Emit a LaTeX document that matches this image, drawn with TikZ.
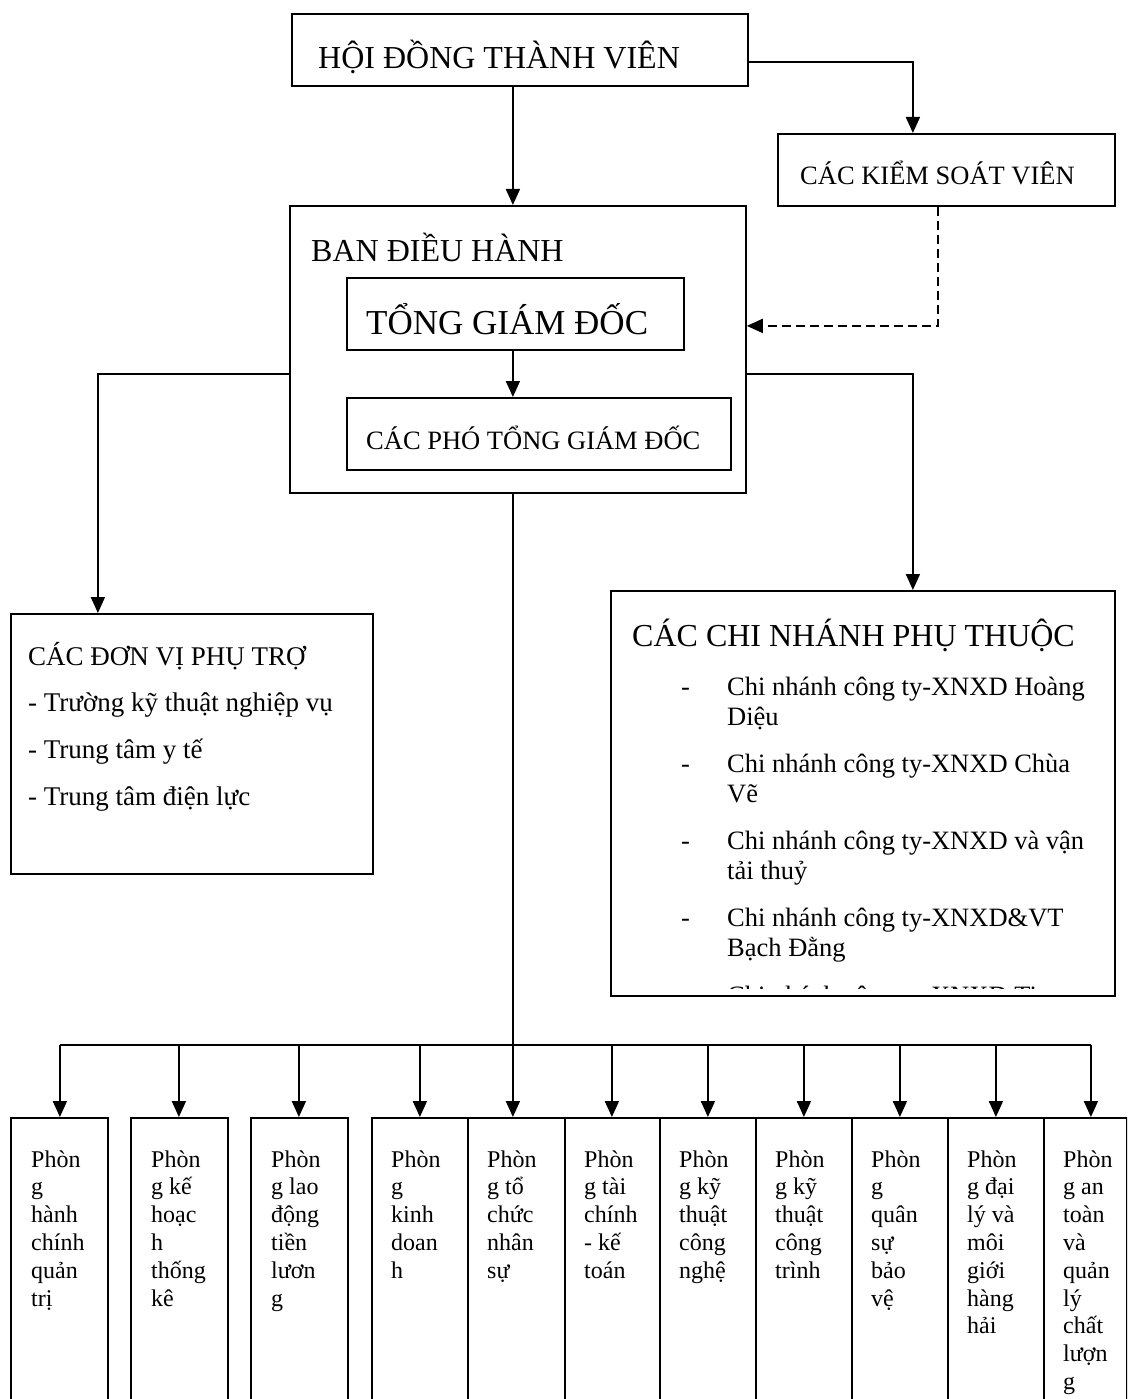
\documentclass[tikz,border=0pt]{standalone}
\usepackage{fontspec}
\setmainfont{Liberation Serif}
\usetikzlibrary{arrows.meta}
\newcommand\myfs[1]{\fontsize{#1pt}{#1pt}\selectfont}
\begin{document}
\begin{tikzpicture}[x=1pt,y=-1pt,
  box/.style={draw, line width=1.8pt, inner sep=0pt, anchor=north west},
  arr/.style={line width=1.8pt, -{Triangle[length=16pt,width=14pt]}},
  dasharr/.style={line width=1.9pt, dash pattern=on 9pt off 5pt, -{Triangle[length=16pt,width=14pt]}},
  lbl/.style={anchor=base west, inner sep=0pt},
]
\clip (0,0) rectangle (1127,1399);
\fill[white] (0,0) rectangle (1127,1399);

% top boxes
\node[box,minimum width=456pt,minimum height=72pt] (hdtv) at (291,13) {};
\node[lbl,font=\myfs{32}] (hdtvT) at (318,69) {HỘI ĐỒNG THÀNH VIÊN};
\node[box,minimum width=337pt,minimum height=72pt] (ksv) at (777,133) {};
\node[lbl,font=\myfs{26.5}] (ksvT) at (800,185) {CÁC KIỂM SOÁT VIÊN};
\node[box,minimum width=456pt,minimum height=287pt] (bdh) at (289,205) {};
\node[lbl,font=\myfs{32}] (bdhT) at (311,261) {BAN ĐIỀU HÀNH};
\node[box,minimum width=337pt,minimum height=72pt] (tgd) at (346,277) {};
\node[lbl,font=\myfs{35}] (tgdT) at (366,334) {TỔNG GIÁM ĐỐC};
\node[box,minimum width=384pt,minimum height=72pt] (cptgd) at (346,397) {};
\node[lbl,font=\myfs{26.5}] (cptgdT) at (366,449) {CÁC PHÓ TỔNG GIÁM ĐỐC};

% support units
\node[box,minimum width=362pt,minimum height=260pt] (dvpt) at (10,613) {};
\node[lbl,font=\myfs{27}] (dvptT) at (28,665) {CÁC ĐƠN VỊ PHỤ TRỢ};
\node[lbl,font=\myfs{27}] (dvpt1) at (28,711) {- Trường kỹ thuật nghiệp vụ};
\node[lbl,font=\myfs{27}] (dvpt2) at (28,758) {- Trung tâm y tế};
\node[lbl,font=\myfs{27}] (dvpt3) at (28,805) {- Trung tâm điện lực};

% branches
\node[box,minimum width=504pt,minimum height=405pt] (cn) at (610,590) {};
\node[lbl,font=\myfs{32}] (cnT) at (632,646) {CÁC CHI NHÁNH PHỤ THUỘC};
\begin{scope}
\clip (cn.north west) rectangle ([yshift=8pt]cn.south east);
\foreach \y/\a/\b [count=\k] in {695/Chi nhánh công ty-XNXD Hoàng/Diệu,
    772/Chi nhánh công ty-XNXD Chùa/Vẽ,
    849/Chi nhánh công ty-XNXD và vận/tải thuỷ,
    926/Chi nhánh công ty-XNXD\&VT/Bạch Đằng,
    1004.5/Chi nhánh công ty-XNXD Ti/ } {
  \node[lbl,font=\myfs{26.5}] (cnd\k) at (681,\y) {-};
  \node[lbl,font=\myfs{26.5}] (cna\k) at (727,\y) {\a};
  \node[lbl,font=\myfs{26.5}] (cnb\k) at (727,\y+30) {\b};
}
\end{scope}

% bottom departments
\foreach \i/\x/\w in {1/10/97,2/130/97,3/250/97,4/371/96,5/467/97,6/564/95,
                      7/659/96,8/755/96,9/851/96,10/947/96,11/1043/83} {
  \node[box,minimum width=\w pt,minimum height=320pt] (b\i) at (\x,1117) {};
}
\foreach \i/\x/\lst in {
   1/31/{Phòn,g,hành,chính,quản,trị},
   2/151/{Phòn,g kế,hoạc,h,thống,kê},
   3/271/{Phòn,g lao,động,tiền,lươn,g},
   4/391/{Phòn,g,kinh,doan,h},
   5/487/{Phòn,g tổ,chức,nhân,sự},
   6/584/{Phòn,g tài,chính,- kế,toán},
   7/679/{Phòn,g kỹ,thuật,công,nghệ},
   8/775/{Phòn,g kỹ,thuật,công,trình},
   9/871/{Phòn,g,quân,sự,bảo,vệ},
   10/967/{Phòn,g đại,lý và,môi,giới,hàng,hải},
   11/1063/{Phòn,g an,toàn,và,quản,lý,chất,lượn,g}} {
  \foreach \t [count=\k] in \lst {
    \node[lbl,font=\myfs{24}] (t\i-\k) at (\x,1167+27.8*\k-27.8) {\t};
  }
}

% connectors
\draw[arr] ([yshift=-12pt]hdtv.east) -| ([xshift=-33.5pt]ksv.north);
\draw[arr] ([xshift=-7pt]hdtv.south) -- ([xshift=-7pt]hdtv.south |- bdh.north);
\draw[dasharr] ([xshift=-8.5pt]ksv.south) |- ([yshift=23.5pt]bdh.east);
\draw[arr] ([xshift=-2.5pt]tgd.south) -- ([xshift=-2.5pt]tgd.south |- cptgd.north);
\draw[arr] ([yshift=-24.5pt]bdh.west) -| ([xshift=-94pt]dvpt.north);
\draw[arr] ([yshift=-24.5pt]bdh.east) -| ([xshift=50pt]cn.north);
\draw[arr] ([xshift=-3.5pt]b5.north |- bdh.south) -- ([xshift=-3.5pt]b5.north);
\coordinate (bus) at (0,1045);
\draw[line width=1.8pt] ([xshift=0.5pt]b1.north |- bus) -- ([xshift=5.5pt]b11.north |- bus);
\foreach \i/\s in {1/0.5,2/-0.5,3/-0.5,4/0,6/-0.5,7/0,8/0,9/0,10/0,11/5.5} {
  \draw[arr] ([xshift=\s pt]b\i.north |- bus) -- ([xshift=\s pt]b\i.north);
}
\end{tikzpicture}
\end{document}
